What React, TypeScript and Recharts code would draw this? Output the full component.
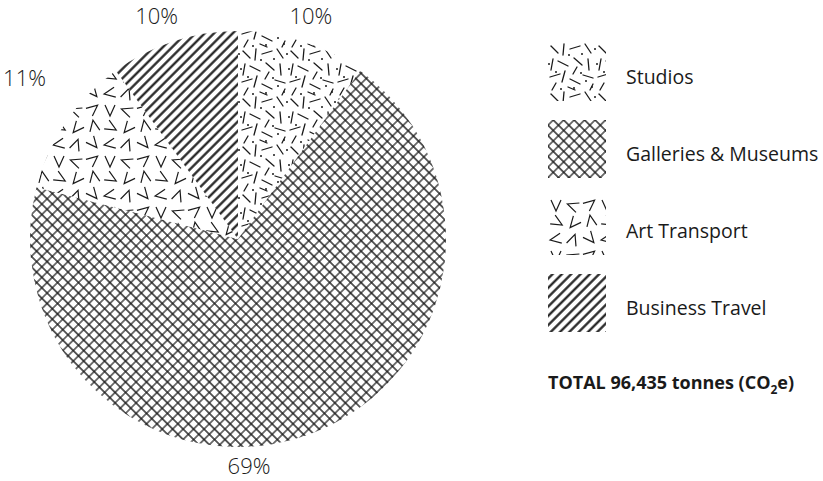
import React from 'react';
import { PieChart, Pie, Cell, Legend } from 'recharts';

const categories = ['Studios', 'Galleries & Museums', 'Art Transport', 'Business Travel'];
const shares = [10, 69, 11, 10];
const patternIds = ['pat-studios', 'pat-galleries', 'pat-transport', 'pat-travel'];
const totalLabel = 'TOTAL 96,435 tonnes (CO';

// label placement tweaks (angle in degrees, radial offset in px) – style only
const labelNudge = [
  { da: 0, dr: 28 },
  { da: -17, dr: 18 },
  { da: -3, dr: 60 },
  { da: 2, dr: 30 },
];

const data = categories.map((name, i) => ({ name, value: shares[i] }));

const FONT = '"Open Sans", "Noto Sans", sans-serif';
const INK = '#1a1a1a';
const RADIAN = Math.PI / 180;

// hand-placed texture strokes for the pattern tiles
const dashSegs: number[][] = [
  [3, 3, 10, 10], [16, 1, 15, 12], [22, 6, 32, 3], [37, 1, 43, 10],
  [5, 16, 3, 27], [10, 18, 20, 23], [26, 15, 34, 22], [40, 16, 41, 27],
  [2, 34, 12, 31], [17, 28, 14, 39], [22, 36, 32, 41], [35, 32, 45, 35],
  [8, 40, 4, 47], [29, 24, 25, 31], [45, 41, 42, 47], [20, 44, 27, 47],
];
const dashDots: number[][] = [
  [21, 12], [34, 11], [8, 29], [33, 30], [44, 44], [13, 46], [1, 21], [38, 38], [26, 45], [47, 6],
];
const chevrons: number[][] = [
  [8, 8, 0], [25, 9, 110], [42, 7, 230], [9, 25, 300], [26, 26, 40],
  [43, 24, 170], [8, 42, 80], [25, 43, 200], [42, 41, 320],
];

function Patterns() {
  return (
    <svg width={0} height={0} style={{ position: 'absolute' }}>
      <defs>
        <pattern id="pat-galleries" width={7.4} height={7.4} patternUnits="userSpaceOnUse" patternTransform="rotate(45)">
          <rect width={7.4} height={7.4} fill="#fff" />
          <path d="M0,3.7 H7.4 M3.7,0 V7.4" stroke={INK} strokeWidth={1.2} />
        </pattern>
        <pattern id="pat-travel" width={6.6} height={6.6} patternUnits="userSpaceOnUse" patternTransform="rotate(45)">
          <rect width={6.6} height={6.6} fill="#fff" />
          <line x1={3.3} y1={0} x2={3.3} y2={6.6} stroke={INK} strokeWidth={2.2} />
        </pattern>
        <pattern id="pat-studios" width={48} height={48} patternUnits="userSpaceOnUse">
          <rect width={48} height={48} fill="#fff" />
          {dashSegs.map((s, i) => (
            <line key={i} x1={s[0]} y1={s[1]} x2={s[2]} y2={s[3]} stroke={INK} strokeWidth={1.3} strokeLinecap="round" />
          ))}
          {dashDots.map((d, i) => (
            <circle key={i} cx={d[0]} cy={d[1]} r={1} fill={INK} />
          ))}
        </pattern>
        <pattern id="pat-transport" width={51} height={51} patternUnits="userSpaceOnUse">
          <rect width={51} height={51} fill="#fff" />
          {chevrons.map((c, i) => (
            <g key={i} transform={`translate(${c[0]},${c[1]}) rotate(${c[2]})`}>
              <polyline points="-5,-5 0,6 5,-5" fill="none" stroke={INK} strokeWidth={1.2} />
            </g>
          ))}
        </pattern>
      </defs>
    </svg>
  );
}

const renderLabel = (props: any) => {
  const { cx, cy, midAngle, outerRadius, index, value } = props;
  const n = labelNudge[index];
  const a = midAngle + n.da;
  const r = outerRadius + n.dr;
  const x = cx + r * Math.cos(-a * RADIAN);
  const y = cy + r * Math.sin(-a * RADIAN);
  return (
    <text x={x} y={y} textAnchor="middle" dominantBaseline="central" fontFamily={FONT} fontSize={22} fontWeight={300} fill={INK}>
      {`${value}%`}
    </text>
  );
};

const LegendContent = () => (
  <div style={{ fontFamily: FONT, color: INK }}>
    {categories.map((c, i) => (
      <div key={c} style={{ display: 'flex', alignItems: 'center', height: 58, marginBottom: 19 }}>
        <svg width={58} height={58}>
          <rect width={58} height={58} fill={`url(#${patternIds[i]})`} />
        </svg>
        <span style={{ marginLeft: 20, fontSize: 19.5, paddingTop: 9, whiteSpace: 'nowrap' }}>{c}</span>
      </div>
    ))}
    <div style={{ fontSize: 18, fontWeight: 700, marginTop: 38, whiteSpace: 'nowrap' }}>
      {totalLabel}
      <span style={{ fontSize: 12, verticalAlign: -5 }}>2</span>e)
    </div>
  </div>
);

export default function App() {
  return (
    <div style={{ position: 'absolute', left: 0, top: 0, width: 823, height: 481, background: '#fff' }}>
      <Patterns />
      <PieChart width={823} height={481} margin={{ top: 0, right: 0, bottom: 0, left: 0 }}>
        <Pie
          data={data}
          dataKey="value"
          nameKey="name"
          cx={238}
          cy={239}
          outerRadius={208}
          startAngle={90}
          endAngle={-270}
          stroke="none"
          labelLine={false}
          label={renderLabel}
          isAnimationActive={false}
        >
          {data.map((d, i) => (
            <Cell key={d.name} fill={`url(#${patternIds[i]})`} stroke="none" />
          ))}
        </Pie>
        <Legend
          layout="vertical"
          align="right"
          verticalAlign="top"
          content={<LegendContent />}
          wrapperStyle={{ left: 548, top: 43, width: 275 }}
        />
      </PieChart>
    </div>
  );
}
